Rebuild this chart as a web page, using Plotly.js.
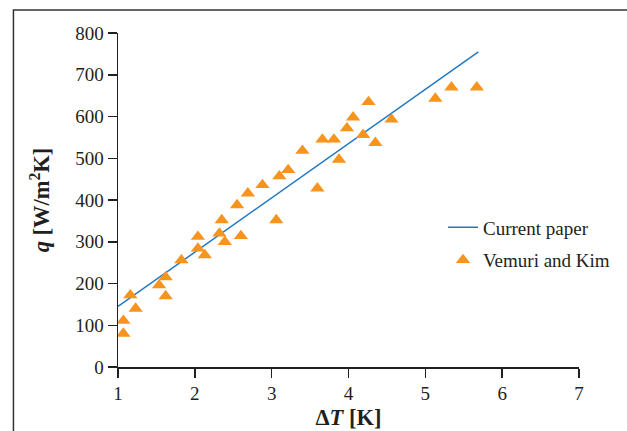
<!DOCTYPE html>
<html>
<head>
<meta charset="utf-8">
<script src="https://cdn.plot.ly/plotly-3.0.1.min.js"></script>
<style>html,body{margin:0;padding:0;background:#fff;}#chart{width:627px;height:431px;}</style>
</head>
<body>
<div id="chart"></div>
<script>
// Current paper model line (ΔT [K], q [W/m²K])
const lineDT = [1.0, 5.69];
const lineQ = [145, 755];

// Vemuri and Kim experimental data
const expDT = [1.07, 1.07, 1.16, 1.23, 1.535, 1.62, 1.62, 1.825, 2.04, 2.04, 2.13, 2.35, 2.32, 2.39, 2.60, 2.55, 3.06,
               2.69, 2.88, 3.10, 3.215, 3.40, 3.595, 3.66, 3.81, 3.876, 3.98, 4.06, 4.19, 4.26, 4.35, 4.56, 5.13, 5.34, 5.67];
const expQ  = [111, 80, 172, 140, 196, 215, 170, 256, 312, 284, 268, 352, 320, 300, 314, 388, 352,
               416, 436, 457, 472, 518, 428, 545, 545, 497, 572, 598, 556, 635, 537, 593, 643, 670, 670];

const xTicks = [1, 2, 3, 4, 5, 6, 7];
const yTicks = [0, 100, 200, 300, 400, 500, 600, 700, 800];

const serif = 'Liberation Serif, Times New Roman, serif';
const ink = '#231f20';

const traces = [
  {x: lineDT, y: lineQ, mode: 'lines', name: 'Current paper', legendgroup: 'a',
   line: {color: '#2179c3', width: 1.5}},
  {x: expDT, y: expQ, mode: 'markers', name: 'Vemuri and Kim', legendgroup: 'b',
   marker: {symbol: 'triangle-up', size: 12.5, color: '#f7941d'}}
];

const axisCommon = {
  showgrid: false, zeroline: false, showline: true, linecolor: ink, linewidth: 1.5,
  ticks: 'outside', ticklen: 9, tickwidth: 1.5, tickcolor: ink,
  tickfont: {family: serif, size: 19, color: ink}
};

const layout = {
  width: 627, height: 431,
  margin: {l: 118, r: 46, t: 33, b: 64},
  paper_bgcolor: '#fff', plot_bgcolor: '#fff',
  showlegend: true,
  legend: {x: 0.705, xanchor: 'left', y: 0.475, yanchor: 'top', bgcolor: 'rgba(0,0,0,0)',
           font: {family: serif, size: 19, color: ink}, tracegroupgap: 5},
  xaxis: Object.assign({}, axisCommon, {range: [1, 7], tickvals: xTicks,
    title: {text: '<b>Δ<i>T</i> [K]</b>', font: {family: serif, size: 22.5, color: ink}, standoff: 6}}),
  yaxis: Object.assign({}, axisCommon, {range: [0, 800], tickvals: yTicks,
    title: {text: '<b><i>q</i> [W/m<sup>2</sup>K]</b>', font: {family: serif, size: 22.5, color: ink}, standoff: 19}}),
  shapes: [
    {type: 'rect', xref: 'paper', yref: 'paper', x0: -0.2268, x1: 1.3, y0: -0.3, y1: 1.069,
     line: {color: '#333', width: 1.5}, fillcolor: 'rgba(0,0,0,0)', layer: 'below'}
  ]
};

Plotly.newPlot('chart', traces, layout, {displayModeBar: false, staticPlot: true});
</script>
</body>
</html>
